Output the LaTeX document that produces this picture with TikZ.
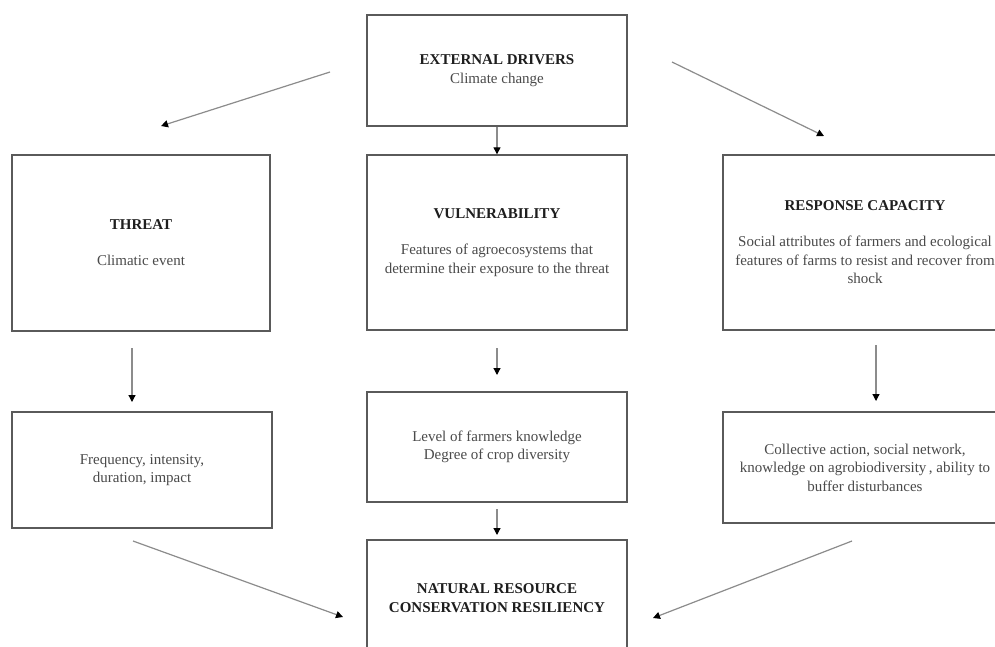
\documentclass[tikz,border=0pt]{standalone}
\usepackage{fontspec}
\setmainfont{Liberation Serif}
\usetikzlibrary{arrows.meta}
\definecolor{boxline}{HTML}{5A5A5A}
\definecolor{arrline}{HTML}{8C8C8C}
\definecolor{bodytext}{HTML}{4A4A4A}
\definecolor{titletext}{HTML}{1E1E1E}
\newcommand{\ttl}[1]{{\color{titletext}\bfseries #1}}
\begin{document}
\begin{tikzpicture}[x=1pt,y=-1pt,
  box/.style={draw=boxline, line width=1.4pt, fill=white, inner sep=0pt,
    align=center, text=bodytext, font=\fontsize{15}{18.5}\selectfont},
  arr/.style={draw=arrline, line width=1.2pt, -{Triangle[length=7pt,width=7pt,color=black]}}
]
\useasboundingbox (0,0) rectangle (995,646);
\fill[white] (0,0) rectangle (995,646);

\node[box, minimum width=260pt, minimum height=111pt] (ext) at (497,70.5)
  {\ttl{EXTERNAL DRIVERS}\\Climate change};
\node[box, minimum width=258pt, minimum height=176pt] (threat) at (141,243)
  {\ttl{THREAT}\\[17.5pt]Climatic event};
\node[box, minimum width=260pt, minimum height=175pt] (vul) at (497,242.5)
  {\ttl{VULNERABILITY}\\[17.5pt]Features of agroecosystems that\\determine their exposure to the threat};
\node[box, minimum width=284pt, minimum height=175pt] (resp) at (865,242.5)
  {\ttl{RESPONSE CAPACITY}\\[17.5pt]Social attributes of farmers and ecological\\features of farms to resist and recover from\\shock};
\node[box, minimum width=260pt, minimum height=116pt] (freq) at (142,470)
  {Frequency, intensity,\\duration, impact};
\node[box, minimum width=260pt, minimum height=110pt] (lev) at (497,447)
  {Level of farmers knowledge\\Degree of crop diversity};
\node[box, minimum width=284pt, minimum height=111pt] (coll) at (865,467.5)
  {Collective action, social network,\\knowledge on agrobiodiversity\,, ability to\\buffer disturbances};
\node[box, minimum width=260pt, minimum height=116pt] (nat) at (497,598)
  {\ttl{NATURAL RESOURCE}\\\ttl{CONSERVATION RESILIENCY}};

% free ends of the connectors
\coordinate (tl0) at (330,72);   \coordinate (tl1) at (161,126);
\coordinate (tr0) at (672,62);   \coordinate (tr1) at (824,136);
\coordinate (t0) at (132,348);   \coordinate (t1) at (132,402);
\coordinate (v0) at (497,348);   \coordinate (v1) at (497,375);
\coordinate (l0) at (497,509);   \coordinate (l1) at (497,535);
\coordinate (r0) at (876,345);   \coordinate (r1) at (876,401);
\coordinate (bl0) at (133,541);  \coordinate (bl1) at (343,617);
\coordinate (br0) at (852,541);  \coordinate (br1) at (653,618);

\draw[arr] (ext) -- (vul);
\draw[arr] (tl0) -- (tl1);
\draw[arr] (tr0) -- (tr1);
\draw[arr] (t0) -- (t1);
\draw[arr] (v0) -- (v1);
\draw[arr] (l0) -- (l1);
\draw[arr] (r0) -- (r1);
\draw[arr] (bl0) -- (bl1);
\draw[arr] (br0) -- (br1);
\end{tikzpicture}
\end{document}
